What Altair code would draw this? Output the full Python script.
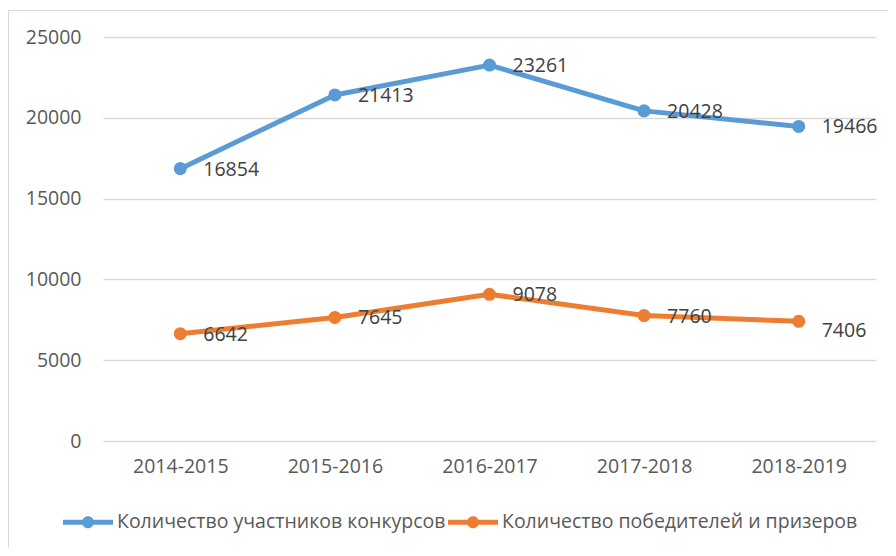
import altair as alt
import pandas as pd

years = ["2014-2015", "2015-2016", "2016-2017", "2017-2018", "2018-2019"]
participants = [16854, 21413, 23261, 20428, 19466]
winners = [6642, 7645, 9078, 7760, 7406]
series_names = ["Количество участников конкурсов", "Количество победителей и призеров"]
colors = ["#5b9bd5", "#ed7d31"]

rows = []
for y, v in zip(years, participants):
    rows.append({"year": y, "value": v, "series": series_names[0]})
for y, v in zip(years, winners):
    rows.append({"year": y, "value": v, "series": series_names[1]})
df = pd.DataFrame(rows)

FONT = "Open Sans"
FS = 19.5

x_enc = alt.X("year:N", sort=years, title=None,
              scale=alt.Scale(type="point", padding=0.5),
              axis=alt.Axis(labelAngle=0, domain=False, ticks=False, grid=False,
                            labelFont=FONT, labelFontSize=FS, labelColor="#595959",
                            labelPadding=16))
y_enc = alt.Y("value:Q", title=None,
              scale=alt.Scale(domain=[0, 25000], nice=False),
              axis=alt.Axis(values=[0, 5000, 10000, 15000, 20000, 25000], format="d",
                            domain=False, ticks=False, grid=True,
                            gridColor="#d9d9d9", gridWidth=1.3,
                            labelFont=FONT, labelFontSize=FS, labelColor="#595959",
                            labelPadding=22))

legend_path = ("M-1,-0.1H1V0.1H-1Z "
               "M0.24,0A0.24,0.24,0,1,1,-0.24,0A0.24,0.24,0,1,1,0.24,0Z")

color_enc = alt.Color("series:N", sort=series_names,
                      scale=alt.Scale(domain=series_names, range=colors),
                      legend=alt.Legend(title=None, orient="none", direction="horizontal",
                                        legendX=-40, legendY=460,
                                        symbolType=legend_path, symbolSize=2500,
                                        symbolStrokeWidth=0, symbolOpacity=1,
                                        labelOffset=4, columnPadding=2, padding=0,
                                        labelFont=FONT, labelFontSize=19.5,
                                        labelColor="#595959", labelLimit=500))

base = alt.Chart(df)

frame = alt.Chart(pd.DataFrame({"a": [0]})).mark_rect(
    fill=None, stroke="#d9d9d9", strokeWidth=1
).encode(x=alt.value(-94.5), x2=alt.value(790), y=alt.value(-26.5), y2=alt.value(540))

lines = base.mark_line(strokeWidth=5, strokeCap="round", strokeJoin="round").encode(
    x=x_enc, y=y_enc, color=color_enc
)
points = base.mark_point(filled=True, size=170, opacity=1).encode(
    x=x_enc, y=y_enc, color=color_enc
)
label_main = base.transform_filter(
    "!(datum.series == '%s' && datum.year == '2018-2019')" % series_names[1]
).mark_text(align="left", baseline="middle", dx=23, dy=1,
            font=FONT, fontSize=FS, color="#404040").encode(
    x=x_enc, y=y_enc, text=alt.Text("value:Q", format="d")
)
label_last = base.transform_filter(
    "datum.series == '%s' && datum.year == '2018-2019'" % series_names[1]
).mark_text(align="left", baseline="middle", dx=23, dy=10,
            font=FONT, fontSize=FS, color="#404040").encode(
    x=x_enc, y=y_enc, text=alt.Text("value:Q", format="d")
)

chart = alt.layer(frame, lines, points, label_main, label_last).properties(
    width=773, height=404,
    autosize=alt.AutoSizeParams(type="none"),
    padding={"left": 95, "top": 29, "right": 12, "bottom": 107},
    background="white",
).configure_view(stroke=None)

chart.save("out.html", embed_options={"renderer": "svg", "actions": False})
